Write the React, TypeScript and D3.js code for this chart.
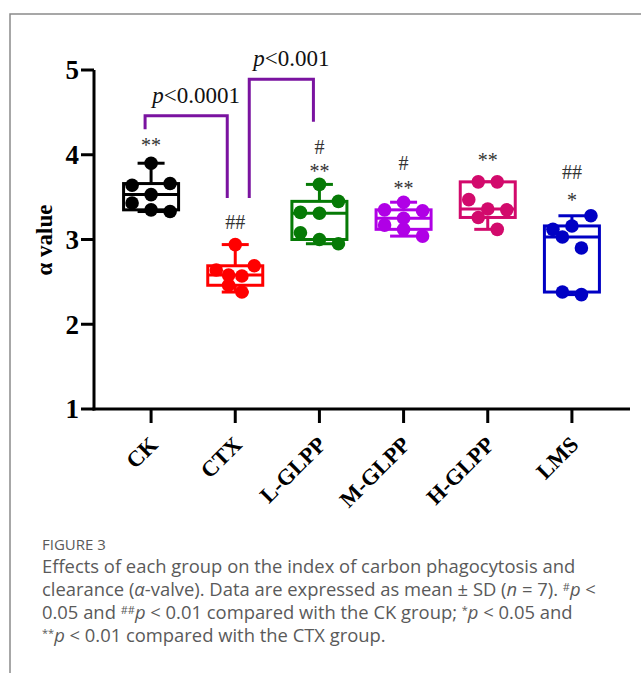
import React from 'react';
import * as d3 from 'd3';

const width = 641;
const height = 673;

const groups = ['CK', 'CTX', 'L-GLPP', 'M-GLPP', 'H-GLPP', 'LMS'];
const groupColors = ['#000000', '#ff0000', '#067a06', '#b000e6', '#d20a6c', '#0000c4'];

// alpha value of each animal (n = 7)
const ckValues = [3.9, 3.64, 3.66, 3.53, 3.43, 3.35, 3.33];
const ctxValues = [2.94, 2.69, 2.64, 2.58, 2.57, 2.46, 2.38];
const lGlppValues = [3.65, 3.45, 3.32, 3.31, 3.08, 3.0, 2.95];
const mGlppValues = [3.44, 3.35, 3.34, 3.25, 3.17, 3.12, 3.04];
const hGlppValues = [3.68, 3.68, 3.47, 3.36, 3.35, 3.26, 3.12];
const lmsValues = [3.28, 3.16, 3.12, 3.03, 2.9, 2.38, 2.35];
const allValues = [ckValues, ctxValues, lGlppValues, mGlppValues, hGlppValues, lmsValues];

// dot columns used by the scatter (in dot widths)
const dotColumns = [
    [0, -1, 1, 0, -1, 0, 1],
    [0, 1, -1, -0.35, 0.35, -0.35, 0.35],
    [0, 1, -1, 0, -1, 0, 1],
    [0, -1, 1, 0, -1, 0, 1],
    [-0.5, 0.5, -1, 0, 1, -0.5, 0.5],
    [1, 0, -1, -0.5, 0.5, -0.5, 0.5],
];

const yTicks = [1, 2, 3, 4, 5];

// significance marks above each group, top line first, with the value they sit at
const sigMarks = [['**'], ['##'], ['#', '**'], ['#', '**'], ['**'], ['##', '*']];
const sigLevels = [[4.14], [3.21], [4.09, 3.84], [3.9, 3.64], [3.97], [3.79, 3.5]];

const comparisons = [
    { from: 0, to: 1, top: 4.46, fromEnd: 4.3, toEnd: 3.49, p: '<0.0001' },
    { from: 1, to: 2, top: 4.89, fromEnd: 3.49, toEnd: 4.39, p: '<0.001' },
];
const bracketInset = [[-6, -8], [14, -6]];

const quantile = (sorted: number[], q: number) => {
    const pos = q * (sorted.length + 1) - 1;
    const lo = Math.max(0, Math.min(sorted.length - 1, Math.floor(pos)));
    const hi = Math.min(sorted.length - 1, lo + 1);
    return sorted[lo] + (sorted[hi] - sorted[lo]) * (pos - lo);
};

const serif = '"Liberation Serif", "Times New Roman", serif';
const sans = '"Open Sans", "Noto Sans", sans-serif';

const Sup = ({ s }: { s: string }) => (
    <>
        <tspan fontSize={11} dy={-5}>{s}</tspan>
        <tspan fontStyle="italic" dy={5}>p</tspan>
    </>
);

const App = () => {
    const xScale = d3.scaleBand().domain(groups).range([109, 614]);
    const yScale = d3.scaleLinear().domain([1, 5]).range([409, 70]);
    const cx = (g: string) => xScale(g)! + xScale.bandwidth() / 2;

    const boxHalf = 27.5;
    const capHalf = 13.5;
    const dotStep = 19;
    const purple = '#7a13a0';
    const capColor = '#5a5a5a';
    const capSize = 18.4;

    return (
        <svg width={width} height={height} style={{ position: 'absolute', left: 0, top: 0 }}>
            <rect width={width} height={height} fill="#fff" />
            <path d={`M10,${height} V14 H${width}`} fill="none" stroke="#8a8a8a" strokeWidth={1.5} />

            {/* axes */}
            <line x1={94} x2={94} y1={yScale(5)} y2={yScale(1) + 1.5} stroke="#000" strokeWidth={3} />
            <line x1={92.5} x2={630} y1={yScale(1)} y2={yScale(1)} stroke="#000" strokeWidth={3} />
            {yTicks.map(t => (
                <g key={t}>
                    <line x1={81} x2={94} y1={yScale(t)} y2={yScale(t)} stroke="#000" strokeWidth={3} />
                    <text x={79} y={yScale(t)} dy="0.35em" textAnchor="end"
                        fontFamily={serif} fontWeight="bold" fontSize={27}>{t}</text>
                </g>
            ))}
            <text transform="translate(52,240) rotate(-90)" textAnchor="middle"
                fontFamily={serif} fontWeight="bold" fontSize={23}>α value</text>
            {groups.map(g => (
                <g key={g}>
                    <line x1={cx(g)} x2={cx(g)} y1={yScale(1)} y2={yScale(1) + 14} stroke="#000" strokeWidth={3} />
                    <text transform={`translate(${cx(g) + 8},446) rotate(-45)`} textAnchor="end"
                        fontFamily={serif} fontWeight="bold" fontSize={22.5}>{g}</text>
                </g>
            ))}

            {/* boxes */}
            {groups.map((g, i) => {
                const vals = allValues[i];
                const sorted = [...vals].sort(d3.ascending);
                const q1 = quantile(sorted, 0.25);
                const med = quantile(sorted, 0.5);
                const q3 = quantile(sorted, 0.75);
                const lo = d3.min(sorted)!;
                const hi = d3.max(sorted)!;
                const x = cx(g);
                const c = groupColors[i];
                return (
                    <g key={g} stroke={c} strokeWidth={3} fill="none">
                        <line x1={x} x2={x} y1={yScale(q3)} y2={yScale(hi)} />
                        <line x1={x} x2={x} y1={yScale(q1)} y2={yScale(lo)} />
                        <line x1={x - capHalf} x2={x + capHalf} y1={yScale(hi)} y2={yScale(hi)} />
                        <line x1={x - capHalf} x2={x + capHalf} y1={yScale(lo)} y2={yScale(lo)} />
                        <rect x={x - boxHalf} width={boxHalf * 2} y={yScale(q3)} height={yScale(q1) - yScale(q3)} fill="#fff" />
                        <line x1={x - boxHalf} x2={x + boxHalf} y1={yScale(med)} y2={yScale(med)} />
                        {vals.map((v, j) => (
                            <circle key={j} cx={x + dotColumns[i][j] * dotStep} cy={yScale(v)} r={6.8} fill={c} stroke="none" />
                        ))}
                    </g>
                );
            })}

            {/* significance marks */}
            {groups.map((g, i) => sigMarks[i].map((m, k) => (
                <text key={g + k} x={cx(g)} y={yScale(sigLevels[i][k])}
                    dy={m.startsWith('*') ? '0.48em' : '0.34em'} textAnchor="middle"
                    fontFamily={serif} fontSize={20} fill="#333">{m}</text>
            )))}

            {/* comparison brackets */}
            {comparisons.map((b, i) => {
                const x0 = cx(groups[b.from]) + bracketInset[i][0];
                const x1 = cx(groups[b.to]) + bracketInset[i][1];
                const yt = yScale(b.top);
                return (
                    <g key={i}>
                        <path d={`M${x0},${yScale(b.fromEnd)} V${yt} H${x1} V${yScale(b.toEnd)}`}
                            fill="none" stroke={purple} strokeWidth={3} />
                        <text x={(x0 + x1) / 2 + 10} y={yt - 13} textAnchor="middle"
                            fontFamily={serif} fontSize={23} fill="#111">
                            <tspan fontStyle="italic">p</tspan>{b.p}
                        </text>
                    </g>
                );
            })}

            {/* caption */}
            <g fontFamily={sans} fill={capColor}>
                <text x={42} y={550} fontSize={15}>FIGURE 3</text>
                <text x={42} y={573} fontSize={capSize}>Effects of each group on the index of carbon phagocytosis and</text>
                <text x={42} y={596} fontSize={capSize}>
                    clearance (<tspan fontStyle="italic">α</tspan>-valve). Data are expressed as mean ± SD (<tspan fontStyle="italic">n</tspan> = 7).{' '}
                    <Sup s="#" /> &lt;
                </text>
                <text x={42} y={619} fontSize={capSize}>
                    0.05 and <Sup s="##" /> &lt; 0.01 compared with the CK group;{' '}
                    <Sup s="*" /> &lt; 0.05 and
                </text>
                <text x={42} y={642} fontSize={capSize}>
                    <Sup s="**" /> &lt; 0.01 compared with the CTX group.
                </text>
            </g>
        </svg>
    );
};

export default App;
